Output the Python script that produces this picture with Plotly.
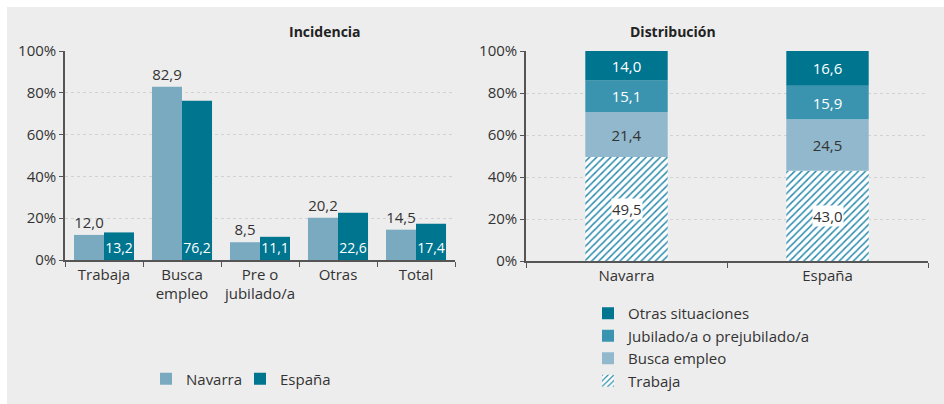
import plotly.graph_objects as go

# ---- data ----
inc_categories = ["Trabaja", "Busca<br>empleo", "Pre o<br>jubilado/a", "Otras", "Total"]
inc_navarra = [12.0, 82.9, 8.5, 20.2, 14.5]
inc_espana = [13.2, 76.2, 11.1, 22.6, 17.4]

dist_regions = ["Navarra", "España"]
dist_trabaja = [49.5, 43.0]
dist_busca = [21.4, 24.5]
dist_jubilado = [15.1, 15.9]
dist_otras = [14.0, 16.6]

y_ticks = [0, 20, 40, 60, 80, 100]
y_ticktext = ["0%", "20%", "40%", "60%", "80%", "100%"]


def fmt(v):
    return f"{v:.1f}".replace(".", ",")


FONT = "Open Sans"
TXT = "#333333"
C_NAV = "#79AAC0"
C_ESP = "#00758F"
C_OTR = "#00758F"
C_JUB = "#3A94B0"
C_BUS = "#91B8CC"
C_HATCH = "#2E8DAE"

fig = go.Figure()

# ---- left: Incidencia ----
fig.add_trace(go.Bar(
    x=inc_categories, y=inc_navarra, name="Navarra", marker_color=C_NAV,
    text=[fmt(v) for v in inc_navarra], textposition="outside",
    textfont=dict(color=TXT, size=15, family=FONT), cliponaxis=False,
    constraintext="none",
    offsetgroup="n", xaxis="x", yaxis="y", legend="legend",
))
fig.add_trace(go.Bar(
    x=inc_categories, y=inc_espana, name="España", marker_color=C_ESP,
    text=[fmt(v) for v in inc_espana], textposition="inside", insidetextanchor="start",
    textfont=dict(color="white", size=14, family=FONT), textangle=0,
    constraintext="none", cliponaxis=False,
    offsetgroup="e", xaxis="x", yaxis="y", legend="legend",
))

# ---- right: Distribución (stacked via cumulative base) ----
stack = [
    ("Trabaja", dist_trabaja, None, TXT),
    ("Busca empleo", dist_busca, C_BUS, TXT),
    ("Jubilado/a o prejubilado/a", dist_jubilado, C_JUB, "white"),
    ("Otras situaciones", dist_otras, C_OTR, "white"),
]
base = [0.0 for _ in dist_regions]
for name, vals, col, tcol in stack:
    kw = {}
    if col is None:
        kw["marker"] = dict(color=C_HATCH, line_width=0,
                            pattern=dict(shape="/", fgcolor=C_HATCH, bgcolor="white",
                                         size=5, solidity=0.3, fillmode="replace"))
    else:
        kw["marker"] = dict(color=col, line_width=0)
        kw["text"] = [fmt(v) for v in vals]
        kw["textposition"] = "inside"
        kw["insidetextanchor"] = "middle"
        kw["textfont"] = dict(color=tcol, size=15, family=FONT)
    fig.add_trace(go.Bar(
        x=dist_regions, y=vals, base=list(base), name=name,
        width=0.41, offset=-0.205, offsetgroup="s",
        xaxis="x2", yaxis="y2", legend="legend2", **kw,
    ))
    if col is None:
        for r, v, b in zip(dist_regions, vals, base):
            fig.add_annotation(x=r, y=b + v / 2, xref="x2", yref="y2", text=fmt(v),
                               showarrow=False, bgcolor="white", borderpad=0,
                               font=dict(color=TXT, size=15, family=FONT))
    base = [b + v for b, v in zip(base, vals)]

axis_common = dict(
    showline=True, linecolor="#555555", linewidth=1.5, automargin=False,
    tickfont=dict(size=15, color=TXT, family=FONT),
)
yaxis_common = dict(
    range=[0, 100], tickmode="array", tickvals=y_ticks, ticktext=y_ticktext,
    ticks="outside", ticklen=4,
    tickcolor="#555555", showgrid=True, gridcolor="#D2D2D2", griddash="dot",
    gridwidth=1, zeroline=False, **axis_common,
)
xaxis_common = dict(
    type="category", ticks="outside", tickson="boundaries", ticklen=5, tickangle=0,
    tickcolor="#555555", showgrid=False, **axis_common,
)

fig.update_layout(
    template="none",
    width=944, height=404,
    margin=dict(l=0, r=0, t=0, b=0, pad=0, autoexpand=False),
    paper_bgcolor="white", plot_bgcolor="rgba(0,0,0,0)",
    font=dict(family=FONT, color=TXT, size=15),
    barmode="group", bargap=0.23, bargroupgap=0,
    xaxis=dict(domain=[65 / 944, 455 / 944], anchor="y", **xaxis_common),
    yaxis=dict(domain=[(404 - 260) / 404, (404 - 51) / 404], anchor="x", **yaxis_common),
    xaxis2=dict(domain=[526 / 944, 928 / 944], anchor="y2", **xaxis_common),
    yaxis2=dict(domain=[(404 - 261) / 404, (404 - 51) / 404], anchor="x2", **yaxis_common),
    legend=dict(orientation="h", x=146 / 944, y=(404 - 379) / 404, xanchor="left",
                yanchor="middle", bgcolor="rgba(0,0,0,0)",
                font=dict(size=15, color=TXT, family=FONT), itemwidth=30,
                entrywidthmode="pixels", entrywidth=49),
    legend2=dict(orientation="v", x=588 / 944, y=(404 - 297) / 404, xanchor="left",
                 yanchor="top", traceorder="reversed", bgcolor="rgba(0,0,0,0)",
                 font=dict(size=15, color=TXT, family=FONT), itemwidth=30,
                 tracegroupgap=0),
    shapes=[dict(type="rect", xref="paper", yref="paper", x0=7 / 944, x1=1, y0=0,
                 y1=(404 - 7) / 404, fillcolor="#EDEDED", line_width=0, layer="below")],
    annotations=list(fig.layout.annotations) + [
        dict(text="<b>Incidencia</b>", x=287 / 944, y=(404 - 32) / 404, xref="paper",
             yref="paper", yanchor="middle", showarrow=False,
             font=dict(size=14, color="#222", family=FONT)),
        dict(text="<b>Distribución</b>", x=718 / 944, y=(404 - 32) / 404, xref="paper",
             yref="paper", yanchor="middle", showarrow=False,
             font=dict(size=14, color="#222", family=FONT)),
    ],
)

fig.write_html("out.html", config={"displayModeBar": False},
               post_script="document.body.style.margin='0';")
